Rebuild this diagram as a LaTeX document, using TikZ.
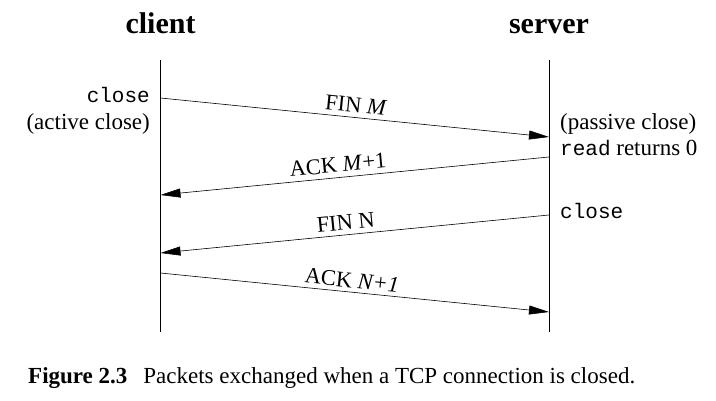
\documentclass[tikz,border=0pt]{standalone}
\usepackage{fontspec}
\setmainfont{Liberation Serif}
\setmonofont{Liberation Mono}
\usetikzlibrary{arrows.meta}
\begin{document}
\begin{tikzpicture}[x=1pt,y=-1pt,
  msg/.style={draw, line width=0.6pt, -{Triangle[length=20pt,width=9pt]}},
  life/.style={draw, line width=0.8pt},
  hdr/.style={font=\fontsize{30}{34}\selectfont\bfseries, anchor=base},
  lbl/.style={font=\fontsize{22.5}{26}\selectfont, sloped, above, inner sep=5pt},
  side/.style={font=\fontsize{23}{26}\selectfont, inner sep=0pt, anchor=base east},
  sider/.style={font=\fontsize{23}{26}\selectfont, inner sep=0pt, anchor=base west},
  mono/.style={font=\fontsize{21}{26}\selectfont\ttfamily},
  captext/.style={font=\fontsize{23}{26}\selectfont, inner sep=0pt, anchor=base west}]
\useasboundingbox (0,0) rectangle (716,401);
\node[hdr] (client) at (160.5,34) {client};
\node[hdr] (server) at (549,34) {server};
\coordinate (ctop) at (160.5,60);
\coordinate (cbot) at (160.5,332);
\coordinate (stop) at (549,60);
\coordinate (sbot) at (549,332);
\draw[life] (ctop) -- (cbot);
\draw[life] (stop) -- (sbot);
\coordinate (c1) at (160.5,98);
\coordinate (s1) at (549,137);
\coordinate (s2) at (549,157);
\coordinate (c2) at (160.5,195);
\coordinate (s3) at (549,215);
\coordinate (c3) at (160.5,253);
\coordinate (c4) at (160.5,273);
\coordinate (s4) at (549,312);
\draw[msg] (c1) -- node[lbl, pos=0.5] (l1) {FIN \textit{M}} (s1);
\draw[msg] (s2) -- node[lbl, pos=0.54] (l2) {ACK \textit{M}+1} (c2);
\draw[msg] (s3) -- node[lbl, pos=0.52] (l3) {FIN N} (c3);
\draw[msg] (c4) -- node[lbl, pos=0.49, inner sep=4pt] (l4) {ACK \textit{N+1}} (s4);
\node[side, mono, anchor=base east] (cclose) at (150,103) {close};
\node[side] (active) at (150,130) {(active close)};
\node[sider] (passive) at (560,130) {(passive close)};
\node[sider] (readret) at (560,156) {{\fontsize{21}{26}\selectfont\ttfamily read} returns 0};
\node[sider, mono, anchor=base west] (sclose) at (560,219) {close};
\node[captext] (caption) at (28,384) {\textbf{Figure 2.3}\hspace{16pt}Packets exchanged when a TCP connection is closed.};
\end{tikzpicture}
\end{document}
